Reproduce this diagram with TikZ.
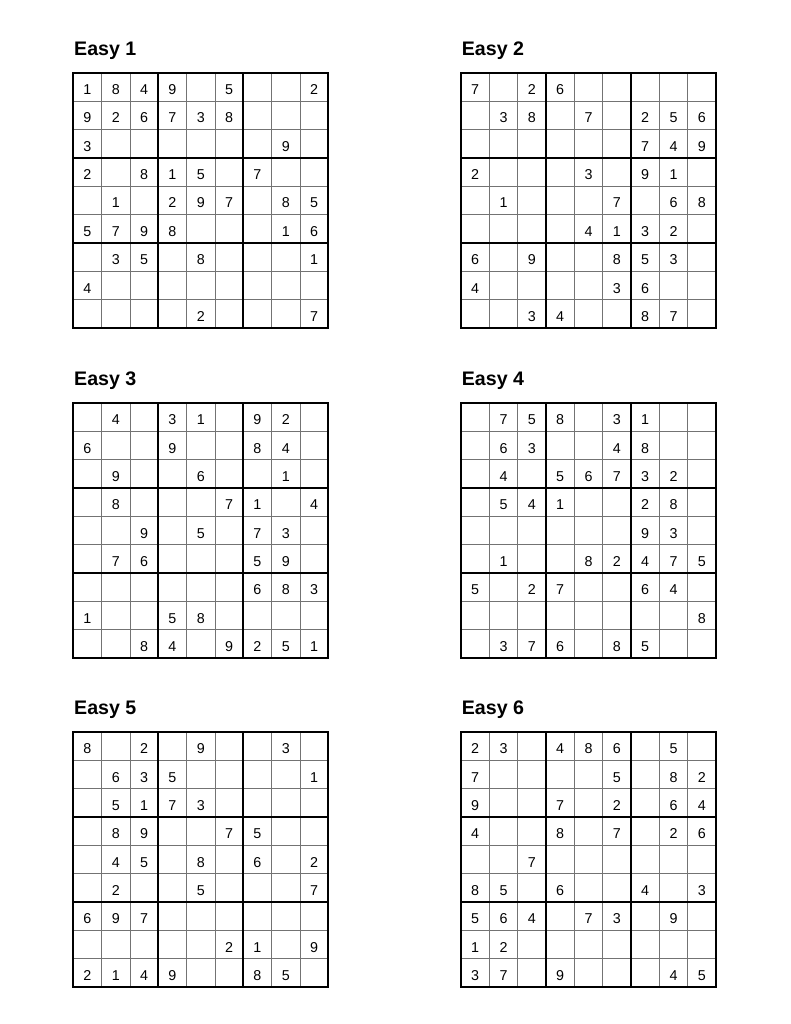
\documentclass[tikz,border=0pt]{standalone}
\usepackage{fontspec}
\setmainfont{Liberation Sans}
\tikzset{
  gridtitle/.style={anchor=base west, inner sep=0pt, font=\fontsize{19.6}{21}\selectfont\bfseries},
  digit/.style={anchor=base, inner sep=0pt, font=\fontsize{14.3}{16}\selectfont},
  thinline/.style={line width=0.9pt, draw=black!55},
  thickline/.style={line width=2pt, draw=black, line cap=rect},
}
\newcommand\sudokugrid[5]{%
\begin{scope}[shift={(#1,#2)}]
  \node[gridtitle] (#3-t) at (0.7,-17) {#4};
  \foreach \k in {1,2,4,5,7,8} {
    \draw[thinline] ({\k*255/9},0) -- ({\k*255/9},255);
    \draw[thinline] (0,{\k*255/9}) -- (255,{\k*255/9});
  }
  \foreach \k in {3,6} {
    \draw[thickline] ({\k*255/9},0) -- ({\k*255/9},255);
    \draw[thickline] (0,{\k*255/9}) -- (255,{\k*255/9});
  }
  \draw[thickline, line join=miter] (0,0) rectangle (255,255);
  \foreach \row [count=\i] in {#5} {
    \foreach \d [count=\j] in \row {
      \ifnum\d>0
        \node[digit] (#3-\i-\j) at ({(\j-0.5)*255/9},{(\i-0.5)*255/9+7.8}) {\d};
      \fi
    }
  }
\end{scope}}
\begin{document}
\begin{tikzpicture}[x=1pt,y=-1pt]
\useasboundingbox[fill=white] (0,0) rectangle (791,1024);
\sudokugrid{73.3}{72.7}{ea}{Easy 1}{{1,8,4,9,0,5,0,0,2},{9,2,6,7,3,8,0,0,0},{3,0,0,0,0,0,0,9,0},{2,0,8,1,5,0,7,0,0},{0,1,0,2,9,7,0,8,5},{5,7,9,8,0,0,0,1,6},{0,3,5,0,8,0,0,0,1},{4,0,0,0,0,0,0,0,0},{0,0,0,0,2,0,0,0,7}}
\sudokugrid{461}{72.7}{eb}{Easy 2}{{7,0,2,6,0,0,0,0,0},{0,3,8,0,7,0,2,5,6},{0,0,0,0,0,0,7,4,9},{2,0,0,0,3,0,9,1,0},{0,1,0,0,0,7,0,6,8},{0,0,0,0,4,1,3,2,0},{6,0,9,0,0,8,5,3,0},{4,0,0,0,0,3,6,0,0},{0,0,3,4,0,0,8,7,0}}
\sudokugrid{73.3}{402.7}{ec}{Easy 3}{{0,4,0,3,1,0,9,2,0},{6,0,0,9,0,0,8,4,0},{0,9,0,0,6,0,0,1,0},{0,8,0,0,0,7,1,0,4},{0,0,9,0,5,0,7,3,0},{0,7,6,0,0,0,5,9,0},{0,0,0,0,0,0,6,8,3},{1,0,0,5,8,0,0,0,0},{0,0,8,4,0,9,2,5,1}}
\sudokugrid{461}{402.7}{ed}{Easy 4}{{0,7,5,8,0,3,1,0,0},{0,6,3,0,0,4,8,0,0},{0,4,0,5,6,7,3,2,0},{0,5,4,1,0,0,2,8,0},{0,0,0,0,0,0,9,3,0},{0,1,0,0,8,2,4,7,5},{5,0,2,7,0,0,6,4,0},{0,0,0,0,0,0,0,0,8},{0,3,7,6,0,8,5,0,0}}
\sudokugrid{73.3}{731.7}{ee}{Easy 5}{{8,0,2,0,9,0,0,3,0},{0,6,3,5,0,0,0,0,1},{0,5,1,7,3,0,0,0,0},{0,8,9,0,0,7,5,0,0},{0,4,5,0,8,0,6,0,2},{0,2,0,0,5,0,0,0,7},{6,9,7,0,0,0,0,0,0},{0,0,0,0,0,2,1,0,9},{2,1,4,9,0,0,8,5,0}}
\sudokugrid{461}{731.7}{ef}{Easy 6}{{2,3,0,4,8,6,0,5,0},{7,0,0,0,0,5,0,8,2},{9,0,0,7,0,2,0,6,4},{4,0,0,8,0,7,0,2,6},{0,0,7,0,0,0,0,0,0},{8,5,0,6,0,0,4,0,3},{5,6,4,0,7,3,0,9,0},{1,2,0,0,0,0,0,0,0},{3,7,0,9,0,0,0,4,5}}
\end{tikzpicture}
\end{document}
